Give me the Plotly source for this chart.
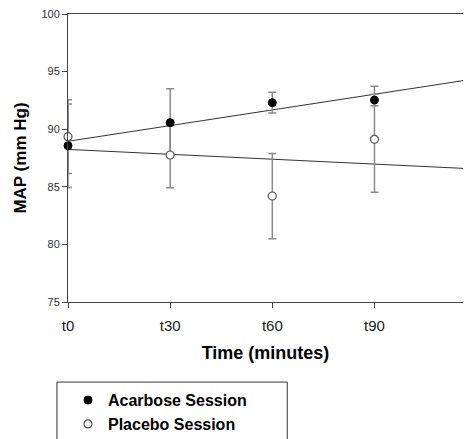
import numpy as np
import plotly.graph_objects as go

# ---- data ----
time_min = [0, 30, 60, 90]
tick_labels = ["t0", "t30", "t60", "t90"]
acarbose_map = [88.57, 90.57, 92.30, 92.53]
acarbose_se = [3.62, 2.95, 0.90, 0.50]
placebo_map = [89.35, 87.76, 84.20, 89.12]
placebo_se = [3.20, 2.85, 3.70, 4.60]

X_MAX = 116
fig = go.Figure()

# regression lines through the session means
for vals in (acarbose_map, placebo_map):
    slope, icpt = np.polyfit(time_min, vals, 1)
    xs = np.array([0, X_MAX])
    fig.add_trace(go.Scatter(x=xs, y=icpt + slope * xs, mode="lines",
                             line=dict(color="#333333", width=1),
                             showlegend=False, hoverinfo="skip"))

# error bars (drawn beneath all markers)
for vals, se in ((acarbose_map, acarbose_se), (placebo_map, placebo_se)):
    fig.add_trace(go.Scatter(
        x=time_min, y=vals, mode="markers", marker=dict(opacity=0, size=8),
        error_y=dict(type="data", array=se, visible=True,
                     color="#8a8a8a", thickness=1.5, width=4),
        showlegend=False, hoverinfo="skip", cliponaxis=False))

fig.add_trace(go.Scatter(
    x=time_min, y=acarbose_map, mode="markers", name="Acarbose Session",
    marker=dict(symbol="circle", size=8, color="black",
                line=dict(color="black", width=1)),
    cliponaxis=False))

fig.add_trace(go.Scatter(
    x=time_min, y=placebo_map, mode="markers", name="Placebo Session",
    marker=dict(symbol="circle", size=8, color="white",
                line=dict(color="#555555", width=1.2)),
    cliponaxis=False))

fig.update_layout(
    width=465, height=439,
    margin=dict(l=68, r=2, t=14, b=137, autoexpand=False),
    paper_bgcolor="white", plot_bgcolor="white",
    font=dict(family="Liberation Sans, Arial, sans-serif", color="#222222"),
    showlegend=True,
    legend=dict(x=0.0, y=-0.282, xanchor="left", yanchor="top",
                bgcolor="rgba(0,0,0,0)", borderwidth=0,
                font=dict(size=16, color="black",
                          family="Liberation Sans, Arial, sans-serif",
                          weight="bold"),
                tracegroupgap=0),
    xaxis=dict(range=[0, X_MAX], tickvals=time_min, ticktext=tick_labels,
               showgrid=False, zeroline=False, showline=True,
               linecolor="#444444", linewidth=1, mirror=True,
               ticks="outside", ticklen=5, tickcolor="#444444",
               tickfont=dict(size=15, color="#222222"),
               ticklabelstandoff=5,
               title=dict(text="<b>Time (minutes)</b>", standoff=13,
                          font=dict(size=18, color="black"))),
    yaxis=dict(range=[75, 100], tickvals=[75, 80, 85, 90, 95, 100],
               showgrid=False, zeroline=False, showline=True,
               linecolor="#444444", linewidth=1,
               ticks="outside", ticklen=5, tickcolor="#444444",
               tickfont=dict(size=11, color="#303030"),
               title=dict(text="<b>MAP (mm Hg)</b>", standoff=10,
                          font=dict(size=17, color="black"))),
    shapes=[dict(type="rect", xref="paper", yref="paper",
                 x0=-0.028, x1=0.555, y0=-0.53, y1=-0.278,
                 line=dict(color="#333333", width=1), fillcolor="rgba(0,0,0,0)")],
)

fig.write_html("out.html")
